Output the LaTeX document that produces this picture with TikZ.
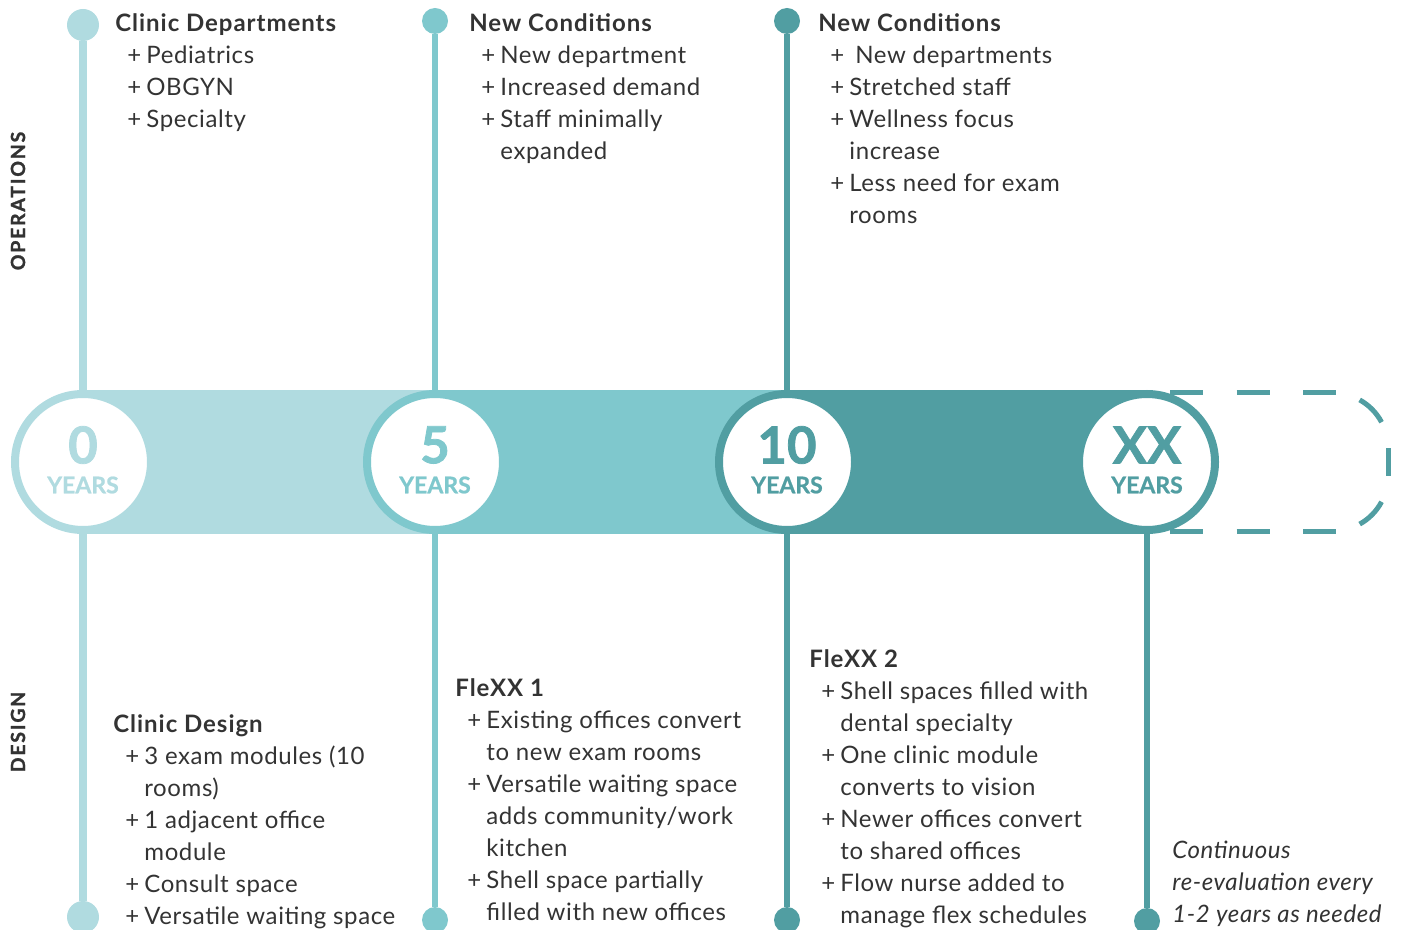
\documentclass[tikz,border=0pt]{standalone}
\usepackage{fontspec}
\setmainfont{Lato}
\usetikzlibrary{positioning}

\definecolor{tealA}{HTML}{B0DBE0}
\definecolor{tealB}{HTML}{7FC8CD}
\definecolor{tealC}{HTML}{519EA2}
\definecolor{ink}{HTML}{333333}

\newcommand{\pl}{\hspace*{6pt}\makebox[9.5pt][l]{+}}
\newcommand{\pc}{\hspace*{15.5pt}}
\newcommand{\ttl}[1]{{\bfseries\addfontfeature{LetterSpace=4}#1}}

\begin{document}
\begin{tikzpicture}[x=0.5pt, y=-0.5pt,
    txt/.style     = {anchor=base west, align=left, inner sep=0pt, text=ink,
                      font=\fontsize{12pt}{16pt}\selectfont\addfontfeature{LetterSpace=2.5}},
    sidelbl/.style = {rotate=90, inner sep=0pt, text=ink,
                      font=\fontsize{9.75pt}{12pt}\selectfont\bfseries\addfontfeature{LetterSpace=9, FakeBold=1.2}},
    ring/.style    = {circle, draw=#1, line width=4pt, fill=white,
                      minimum size=68pt, inner sep=0pt},
    dotbig/.style  = {circle, fill=#1, minimum size=16pt, inner sep=0pt},
    dotsm/.style   = {circle, fill=#1, minimum size=13pt, inner sep=0pt},
    stem/.style    = {draw=#1, line width=3.25pt},
    num/.style     = {inner sep=0pt, text=#1,
                      font=\fontsize{25.5pt}{28pt}\selectfont\bfseries\addfontfeature{FakeBold=1.5}},
    yrs/.style     = {inner sep=0pt, text=#1,
                      font=\fontsize{11.5pt}{14pt}\selectfont\bfseries\addfontfeature{FakeBold=0.8}},
    dashline/.style = {draw=tealC, line width=2.5pt,
                      dash pattern=on 16.5pt off 16.75pt},
    dashcurve/.style = {draw=tealC, line width=2.5pt},
]
\useasboundingbox (0,0) rectangle (1402,930);

%% ---- Layout coordinates ----
\def\yBandTop{390}
\def\yBandBot{534}
\def\yMid{462}

%% ==================================================================
%% BAND
%% ==================================================================
\fill[tealA] (83,\yBandTop) rectangle (435,\yBandBot);
\fill[tealB] (435,\yBandTop) rectangle (787,\yBandBot);
\fill[tealC] (787,\yBandTop) rectangle (1147,\yBandBot);

%% open end, dashed
\draw[dashline] (1170,393) -- (1336,393);
\draw[dashline] (1170,531) -- (1336,531);
\draw[dashcurve] (1333,448) ++(-61:55) arc[start angle=-61, end angle=-28, radius=55];
\draw[dashcurve] (1388,448) -- (1388,476);
\draw[dashcurve] (1333,476) ++(28:55) arc[start angle=28, end angle=61, radius=55];

%% ==================================================================
%% NODES
%% ==================================================================
\node[ring=tealA] (yr0)  at (83,\yMid) {};
\node[ring=tealB] (yr5)  at (435,\yMid) {};
\node[ring=tealC] (yr10) at (787,\yMid) {};
\node[ring=tealC] (yrxx) at (1147,\yMid) {};

\node[dotbig=tealA] (top0)  at (83,25) {};
\node[dotsm=tealB]  (top5)  at (435,21) {};
\node[dotsm=tealC]  (top10) at (787,21) {};

\node[dotbig=tealA] (bot0)  at (83,917) {};
\node[dotsm=tealB]  (bot5)  at (435,920) {};
\node[dotsm=tealC]  (bot10) at (787,920) {};
\node[dotsm=tealC]  (botxx) at (1147,921) {};

%% year labels
\node[num=tealA] (n0)  at ([yshift=8.5pt]yr0.center) {0};
\node[yrs=tealA] (y0)  at ([yshift=-11.5pt]yr0.center) {YEARS};
\node[num=tealB] (n5)  at ([yshift=8.5pt]yr5.center) {5};
\node[yrs=tealB] (y5)  at ([yshift=-11.5pt]yr5.center) {YEARS};
\node[num=tealC] (n10) at ([yshift=8.5pt]yr10.center) {10};
\node[yrs=tealC] (y10) at ([yshift=-11.5pt]yr10.center) {YEARS};
\node[num=tealC] (nxx) at ([yshift=8.5pt]yrxx.center) {XX};
\node[yrs=tealC] (yxx) at ([yshift=-11.5pt]yrxx.center) {YEARS};

%% ==================================================================
%% CONNECTIONS
%% ==================================================================
\draw[stem=tealA, line width=4pt] (top0) -- (yr0);
\draw[stem=tealB] (top5) -- (yr5);
\draw[stem=tealC] (top10) -- (yr10);
\draw[stem=tealA, line width=4pt] (yr0) -- (bot0);
\draw[stem=tealB] (yr5) -- (bot5);
\draw[stem=tealC] (yr10) -- (bot10);
\draw[stem=tealC] (yrxx) -- (botxx);

%% ==================================================================
%% TEXT  (nodes sit on the baseline of their last line)
%% ==================================================================
\node[sidelbl] (opslbl) at (18,201) {OPERATIONS};
\node[sidelbl] (deslbl) at (18,732) {DESIGN};

\node[txt] (ops0) at (115,128)
    {\ttl{Clinic Departments}\\ \pl Pediatrics\\ \pl OBGYN\\ \pl Specialty};
\node[txt] (ops5) at (469,160)
    {\ttl{New Conditions}\\ \pl New department\\ \pl Increased demand\\
     \pl Staff minimally\\ \pc expanded};
\node[txt] (ops10) at (818,224)
    {\ttl{New Conditions}\\ \pl\hspace*{3pt}New departments\\ \pl Stretched staff\\
     \pl Wellness focus\\ \pc increase\\ \pl Less need for exam\\ \pc rooms};

\node[txt] (des0) at (113,924)
    {\ttl{Clinic Design}\\ \pl 3 exam modules (10\\ \pc rooms)\\
     \pl 1 adjacent office\\ \pc module\\ \pl Consult space\\
     \pl Versatile waiting space};
\node[txt] (des5) at (455,920)
    {\ttl{FleXX 1}\\ \pl Existing offices convert\\ \pc to new exam rooms\\
     \pl Versatile waiting space\\ \pc adds community/work\\ \pc kitchen\\
     \pl Shell space partially\\ \pc filled with new offices};
\node[txt] (des10) at (809,923)
    {\ttl{FleXX 2}\\ \pl Shell spaces filled with\\ \pc dental specialty\\
     \pl One clinic module\\ \pc converts to vision\\ \pl Newer offices convert\\
     \pc to shared offices\\ \pl Flow nurse added to\\ \pc manage flex schedules};
\node[txt, font=\fontsize{12pt}{16pt}\selectfont\itshape\addfontfeature{LetterSpace=2.5}]
    (desxx) at (1172,922)
    {Continuous\\ re-evaluation every\\ 1-2 years as needed};

\end{tikzpicture}
\end{document}
